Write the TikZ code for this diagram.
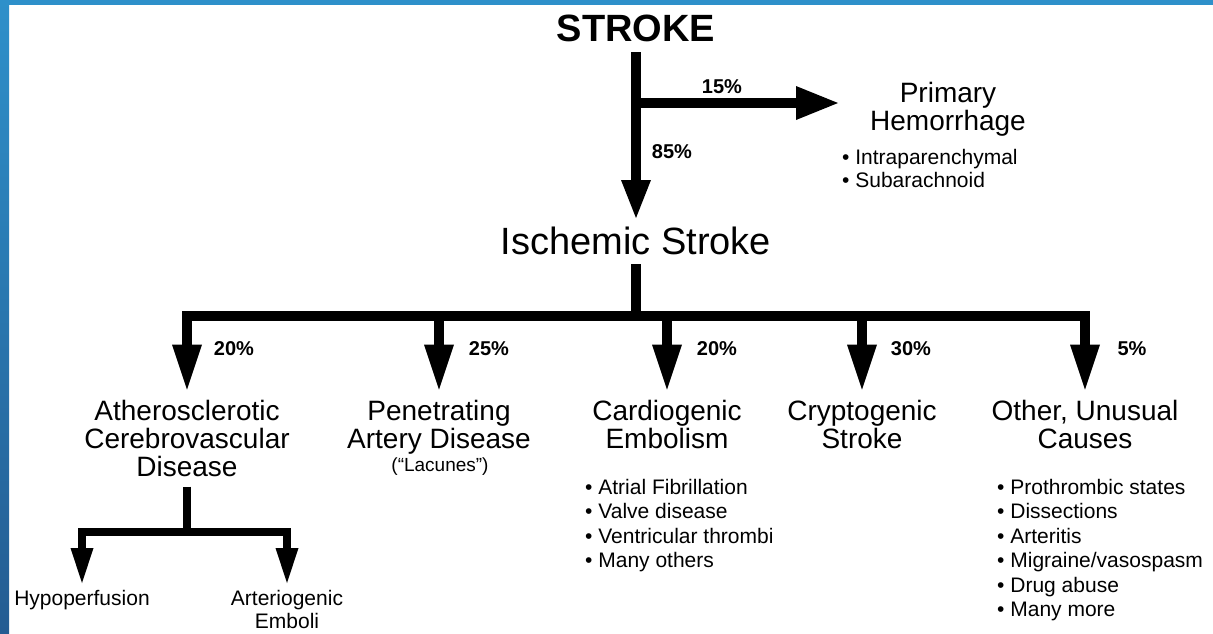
\documentclass[tikz,border=0pt]{standalone}
\usepackage{fontspec}
\setmainfont{Liberation Sans}
\usetikzlibrary{arrows.meta,calc}
\definecolor{bordertop}{RGB}{46,144,202}
\definecolor{borderbot}{RGB}{36,92,146}
\begin{document}
\begin{tikzpicture}[x=1pt,y=-1pt,
  conn/.style={line width=10pt},
  arr/.style={conn,-{Triangle[width=30pt,length=45pt,line width=0pt]}},
  arrtop/.style={conn,-{Triangle[width=30pt,length=38pt,line width=0pt]}},
  arrside/.style={conn,-{Triangle[width=34pt,length=42pt,line width=0pt]}},
  subconn/.style={line width=8pt},
  subarr/.style={subconn,-{Triangle[width=23pt,length=35pt,line width=0pt]}},
  lbl/.style={font=\fontsize{28}{28}\selectfont, align=center, inner xsep=0pt, inner ysep=10pt, anchor=north},
  small/.style={font=\fontsize{21}{23}\selectfont, align=center, inner xsep=0pt, inner ysep=6.7pt, anchor=north},
  pct/.style={font=\bfseries\fontsize{20}{20}\selectfont, inner sep=0pt},
  blist/.style={font=\fontsize{21}{24.4}\selectfont, align=left, inner sep=0pt, anchor=north west},
]
\useasboundingbox (0,0) rectangle (1213,633);
\fill[white] (0,0) rectangle (1213,633);
\shade[top color=bordertop,bottom color=borderbot] (0,0) rectangle (9,633);
\fill[bordertop] (0,0) rectangle (1213,5);

% nodes
\node[font=\bfseries\fontsize{38}{38}\selectfont, inner xsep=0pt, inner ysep=10pt, anchor=south] (stroke) at (636,52) {STROKE};
\node[font=\fontsize{38}{38}\selectfont, inner xsep=0pt, inner ysep=9pt, anchor=north] (isch) at (636,218) {Ischemic Stroke};
\node[font=\fontsize{28}{28}\selectfont, align=center, inner sep=0pt, anchor=north] (hem) at (948,82) {Primary\\Hemorrhage};
\node[blist, font=\fontsize{21}{23}\selectfont, inner xsep=4pt] (hemlist) at (838,149) {• Intraparenchymal\\• Subarachnoid};

\node[lbl] (athero) at (187,389.6) {Atherosclerotic\\Cerebrovascular\\Disease};
\node[lbl] (pen) at (439,389.6) {Penetrating\\Artery Disease};
\node[font=\fontsize{19}{19}\selectfont, inner sep=0pt, anchor=base] (lac) at (440,471) {(“Lacunes”)};
\node[lbl] (cardio) at (667,389.6) {Cardiogenic\\Embolism};
\node[lbl] (crypto) at (862,389.6) {Cryptogenic\\Stroke};
\node[lbl] (other) at (1085,389.6) {Other, Unusual\\Causes};

\node[blist] (cardlist) at (585,479) {• Atrial Fibrillation\\• Valve disease\\• Ventricular thrombi\\• Many others};
\node[blist] (otherlist) at (997,479) {• Prothrombic states\\• Dissections\\• Arteritis\\• Migraine/vasospasm\\• Drug abuse\\• Many more};

\node[small] (hypo) at (82,583) {Hypoperfusion};
\node[small] (arterio) at (287,583) {Arteriogenic\\Emboli};

% percentages
\node[pct] (p15) at (722,87) {15\%};
\node[pct] (p85) at (672,152) {85\%};
\node[pct] (pa) at (234,349) {20\%};
\node[pct] (pb) at (489,349) {25\%};
\node[pct] (pc) at (717,349) {20\%};
\node[pct] (pd) at (911,349) {30\%};
\node[pct] (pe) at (1132,349) {5\%};

% junctions
\coordinate (j1) at (636,103);
\coordinate (j2) at (636,316);
\coordinate (j3) at (187,532);

% connectors
\draw[arrtop] (stroke.south) -- (isch.north);
\draw[arrside] (j1) -- (j1 -| hemlist.west);
\draw[conn] (isch.south) -- (j2);
\draw[arr] (j2) -| (athero.north);
\draw[arr] (j2) -| (pen.north);
\draw[arr] (j2) -| (cardio.north);
\draw[arr] (j2) -| (crypto.north);
\draw[arr] (j2) -| (other.north);
\draw[subconn] (athero.south) -- (j3);
\draw[subarr] (j3) -| (hypo.north);
\draw[subarr] (j3) -| (arterio.north);
\end{tikzpicture}
\end{document}
